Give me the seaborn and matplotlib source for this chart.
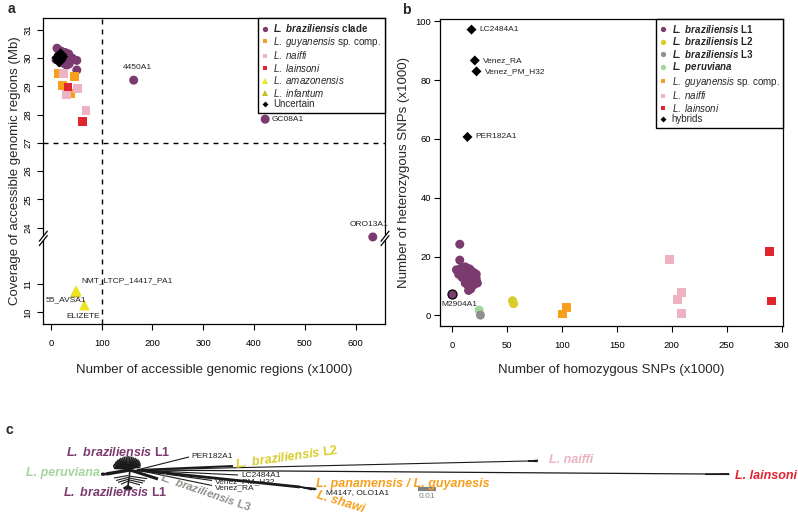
import numpy as np
import pandas as pd
import matplotlib
matplotlib.use("Agg")
import matplotlib.pyplot as plt
import seaborn as sns
from matplotlib.lines import Line2D
from matplotlib.patches import Polygon

sns.set_theme(style="ticks")
plt.rcParams['font.family'] = ['Liberation Sans', 'DejaVu Sans']
plt.rcParams['mathtext.fontset'] = 'custom'
plt.rcParams['mathtext.rm'] = 'Liberation Sans'
plt.rcParams['mathtext.it'] = 'Liberation Sans:italic'
plt.rcParams['mathtext.bf'] = 'Liberation Sans:bold'
plt.rcParams['mathtext.bfit'] = 'Liberation Sans:bold:italic'

PURPLE = "#7B3B6E"
ORANGE = "#F8A01E"
PINK = "#EDB3C3"
RED = "#E02530"
YEL_AM = "#ECE620"
YEL_INF = "#C5C02A"
L2_YEL = "#D9CD2C"
L3_GRAY = "#8F8F8B"
PERU = "#A3D69D"
TREE = "#1a1a1a"

# ---------------- panel a data ----------------
a_brazil_x = [12, 20, 28, 35, 15, 22, 30, 18, 25, 33, 10, 40, 20, 27, 36, 51, 51, 42, 23, 31, 163, 422, 634]
a_brazil_y = [30.35, 30.25, 30.2, 30.15, 30.1, 30.05, 30.0, 29.95, 29.9, 29.9, 29.95, 29.95, 29.85,
              29.8, 29.8, 29.92, 29.58, 30.0, 30.15, 29.75, 29.22, 27.84, 23.67]
a_guy_x = [15, 46.5, 23.5, 38]
a_guy_y = [29.47, 29.35, 29.02, 28.76]
a_naiffi_x = [25, 52, 30, 69]
a_naiffi_y = [29.45, 28.92, 28.7, 28.14]
a_lainsoni_x = [33.5, 62]
a_lainsoni_y = [28.98, 27.75]
a_inf_x = [48]
a_inf_y = [10.72]
a_amaz_x = [50, 66]
a_amaz_y = [10.77, 10.26]
a_unc_x = [14, 18, 21, 16, 19]
a_unc_y = [30.02, 29.95, 30.05, 29.9, 30.12]
a_label_text = ["4450A1", "GC08A1", "ORO13A1", "NMT_LTCP_14417_PA1", "55_AVSA1", "ELIZETE"]
a_label_x = [163, 422, 634, 50, 50, 66]
a_label_y = [29.22, 27.84, 23.67, 10.77, 10.77, 10.26]
a_yticks = [10, 11, 24, 25, 26, 27, 28, 29, 30, 31]
a_xticks = [0, 100, 200, 300, 400, 500, 600]
A_SHIFT = 11  # lower segment of the broken axis is shifted up by this amount

# ---------------- panel b data ----------------
b_l1_x = [7, 7, 4, 6, 8, 10, 12, 14, 16, 18, 20, 22, 9, 11, 13, 15, 17, 19, 21, 23, 12, 14, 16, 18, 20, 22,
          15, 17, 10, 13, 19, 21]
b_l1_y = [24.2, 18.8, 15.5, 14, 16, 15, 16.5, 16, 15.8, 15, 14.5, 14, 13, 12.5, 14, 13, 12.5, 12, 11.5, 11,
          11, 10.5, 9.5, 10, 10.5, 12.5, 8.5, 9, 14, 11.8, 13.5, 13]
b_m2904_x = [0.3]
b_m2904_y = [7.2]
b_l2_x = [55, 56]
b_l2_y = [5.0, 4.0]
b_l3_x = [25.8]
b_l3_y = [0.1]
b_peru_x = [24.6]
b_peru_y = [1.8]
b_guy_x = [100.5, 104.5]
b_guy_y = [0.5, 2.7]
b_naiffi_x = [198, 209, 205, 209]
b_naiffi_y = [19, 7.7, 5.4, 0.7]
b_lainsoni_x = [288.7, 290.9]
b_lainsoni_y = [21.8, 4.9]
b_hyb_name = ["LC2484A1", "Venez_RA", "Venez_PM_H32", "PER182A1"]
b_hyb_x = [17.7, 20.7, 22.2, 14]
b_hyb_y = [97.2, 86.7, 83, 60.7]

# ---------------- panel c tree layout (layout units) ----------------
node_name = ["hub", "east", "L1up", "peru", "L1low", "L3", "PER182A1", "L2", "naiffi", "lainsoni",
             "LC2484A1", "Venez_PM_H32", "Venez_RA", "guy"]
node_x = [130, 137, 128, 106, 128, 158, 189, 233, 528, 705, 238, 212, 212, 300]
node_y = [470, 470, 469, 474, 486, 479, 457, 466, 461, 474, 475, 480.5, 485.5, 487]
node_parent = [None, "hub", "hub", "hub", "hub", "hub", "east", "east", "east", "east", "east", "east",
               "east", "east"]
node_lw = [0, 1.0, 1.0, 2.4, 1.2, 2.2, 0.8, 1.4, 0.8, 0.9, 0.8, 0.8, 0.8, 2.0]
up_fan_ang = [15, 25, 33, 40, 47, 54, 60, 66, 72, 78, 84, 90, 96, 102, 108, 114, 120, 126, 132, 138, 145,
              152, 160, 168, 176]
up_fan_len = [13, 14, 15, 16, 17, 18, 18, 19, 19, 20, 20, 20, 20, 20, 19, 19, 18, 18, 17, 17, 16, 16, 16, 15, 14]
low_side_x0 = [128, 128, 128, 128, 129, 129, 129, 129]
low_side_y0 = [475.5, 477.4, 479.3, 481.1, 476.1, 478, 479.9, 481.8]
low_side_x1 = [114, 116, 118, 121, 147, 145, 143, 140]
low_side_y1 = [478, 480.5, 482.4, 484.3, 478.6, 481.1, 483, 484.9]
low_fan_ang = [-45, -65, -80, -95, -110, -125, -140]
low_fan_len = [6, 7, 7, 7, 7, 6, 6]
peru_fan_ang = [165, 178, 192, 205]
peru_fan_len = [4, 5, 5, 4]
naiffi_fan_ang = [8, 3, -2, -7]
naiffi_fan_len = [10, 10, 10, 9]
lainsoni_fan_ang = [1.5, 0, -1.5]
lainsoni_fan_len = [24, 24, 22]
guy_fan_ang = [-8, -12, -16, -20]
guy_fan_len = [16, 17, 16, 13]
TREE_YSCALE = 0.63

# ================= figure =================
fig = plt.figure(figsize=(7.98, 5.15), dpi=100)
W, H = 798, 515
ax_a = fig.add_axes([43.3 / W, 1 - 324 / H, (385 - 43.3) / W, (324 - 18.3) / H])
ax_b = fig.add_axes([440 / W, 1 - 326 / H, (783.3 - 440) / W, (326 - 19) / H])

for ax in (ax_a, ax_b):
    for s in ax.spines.values():
        s.set_visible(True)
        s.set_color('black')
        s.set_linewidth(0.9)
    ax.tick_params(direction='out', length=4, width=0.8, labelsize=6.8, color='black', labelcolor='black')

# ---- panel a ----
groups_a = (["brazil"] * len(a_brazil_x) + ["guy"] * len(a_guy_x) + ["naiffi"] * len(a_naiffi_x)
            + ["lainsoni"] * len(a_lainsoni_x) + ["inf"] * len(a_inf_x) + ["amaz"] * len(a_amaz_x)
            + ["unc"] * len(a_unc_x))
dfa = pd.DataFrame({
    "x": a_brazil_x + a_guy_x + a_naiffi_x + a_lainsoni_x + a_inf_x + a_amaz_x + a_unc_x,
    "y": a_brazil_y + a_guy_y + a_naiffi_y + a_lainsoni_y + a_inf_y + a_amaz_y + a_unc_y,
    "group": groups_a,
})
dfa["yp"] = np.where(dfa["y"] < 20, dfa["y"] + A_SHIFT, dfa["y"])
pal_a = {"brazil": PURPLE, "guy": ORANGE, "naiffi": PINK, "lainsoni": RED, "inf": YEL_INF,
         "amaz": YEL_AM, "unc": "black"}
mk_a = {"brazil": "o", "guy": "s", "naiffi": "s", "lainsoni": "s", "inf": "^", "amaz": "^", "unc": "D"}
sz_a = {"brazil": 42, "guy": 40, "naiffi": 40, "lainsoni": 40, "inf": 60, "amaz": 60, "unc": 44}
ax_a.axvline(100, color='black', lw=1, dashes=(3.6, 3.6), zorder=1)
ax_a.axhline(27, color='black', lw=1, dashes=(3.6, 3.6), zorder=1)
sns.scatterplot(data=dfa, x="x", y="yp", hue="group", style="group", size="group", palette=pal_a,
                markers=mk_a, sizes=sz_a, linewidth=0, legend=False, ax=ax_a, zorder=3)
ax_a.set_xlim(-15, 658)
ax_a.set_ylim(20.59, 31.41)
ax_a.set_xticks(a_xticks)
ax_a.set_xticklabels([str(v) for v in a_xticks])
ax_a.set_yticks([v + A_SHIFT if v < 20 else v for v in a_yticks])
ax_a.set_yticklabels([str(v) for v in a_yticks], rotation=90, va='center')
ax_a.tick_params(axis='x', pad=7)
ax_a.tick_params(axis='y', pad=4)
ax_a.set_xlabel("Number of accessible genomic regions (x1000)", fontsize=9.5)
ax_a.set_ylabel("Coverage of accessible genomic regions (Mb)", fontsize=9.5)
ax_a.xaxis.set_label_coords(0.5, -0.15)
ax_a.xaxis.label.set_va('center')
ax_a.yaxis.set_label_coords(-0.083, 0.5)
ax_a.yaxis.label.set_va('center')

a_offsets = [(3, 9), (5, 0), (-3, 9), (4, 7), (7, -6.5), (-1, -8.4)]
a_ha = ["center", "left", "center", "left", "right", "center"]
for t, x, y, off, ha in zip(a_label_text, a_label_x, a_label_y, a_offsets, a_ha):
    yp = y + A_SHIFT if y < 20 else y
    ax_a.annotate(t, (x, yp), xytext=off, textcoords='offset points', fontsize=6, ha=ha, va='center',
                  color='#222222', zorder=4)


def draw_break(ax, yval, xfrac):
    y0, y1 = ax.get_ylim()
    fy = (yval - y0) / (y1 - y0)
    bb = ax.get_position()
    px = 1 / (bb.width * W)
    py = 1 / (bb.height * H)
    g, dx, dy = 2.2, 4, 5
    poly = [(xfrac - dx * px, fy + (-g - dy) * py), (xfrac + dx * px, fy + (-g + dy) * py),
            (xfrac + dx * px, fy + (g + dy) * py), (xfrac - dx * px, fy + (g - dy) * py)]
    ax.add_patch(Polygon(poly, closed=True, transform=ax.transAxes, facecolor='white',
                         edgecolor='none', clip_on=False, zorder=5))
    for s in (-g, g):
        ax.plot([xfrac - dx * px, xfrac + dx * px], [fy + (s - dy) * py, fy + (s + dy) * py],
                transform=ax.transAxes, color='black', lw=0.9, clip_on=False, zorder=6)


draw_break(ax_a, 23.62, 0.0)
draw_break(ax_a, 23.62, 1.0)


def mk(marker, color, ms=3.8):
    return Line2D([], [], marker=marker, color=color, ls='none', markersize=ms, markeredgewidth=0)


h_a = [mk('o', PURPLE), mk('s', ORANGE, 3.4), mk('s', PINK, 3.4), mk('s', RED, 3.4), mk('^', YEL_AM, 4.2),
       mk('^', YEL_INF, 4.2), mk('D', 'black', 3.0)]
l_a = [r"$\mathbfit{L.\ braziliensis}$ $\mathbf{clade}$", r"$\mathit{L.\ guyanensis}$ sp. comp.",
       r"$\mathit{L.\ naiffi}$", r"$\mathit{L.\ lainsoni}$", r"$\mathit{L.\ amazonensis}$",
       r"$\mathit{L.\ infantum}$", "Uncertain"]
leg = ax_a.legend(h_a, l_a, loc='upper right', bbox_to_anchor=(1, 1), borderaxespad=0, frameon=True,
                  fancybox=False, edgecolor='black', framealpha=1, fontsize=7, handlelength=0.7,
                  handletextpad=0.5, labelspacing=0.05, borderpad=0.4)
leg.get_frame().set_linewidth(1.0)
leg.set_zorder(10)

# ---- panel b ----
groups_b = (["l1"] * len(b_l1_x) + ["peru"] * len(b_peru_x) + ["l3"] * len(b_l3_x) + ["l2"] * len(b_l2_x)
            + ["guy"] * len(b_guy_x) + ["naiffi"] * len(b_naiffi_x) + ["lainsoni"] * len(b_lainsoni_x)
            + ["hyb"] * len(b_hyb_x))
dfb = pd.DataFrame({
    "x": b_l1_x + b_peru_x + b_l3_x + b_l2_x + b_guy_x + b_naiffi_x + b_lainsoni_x + b_hyb_x,
    "y": b_l1_y + b_peru_y + b_l3_y + b_l2_y + b_guy_y + b_naiffi_y + b_lainsoni_y + b_hyb_y,
    "group": groups_b,
})
pal_b = {"l1": PURPLE, "l2": L2_YEL, "l3": L3_GRAY, "peru": PERU, "guy": ORANGE, "naiffi": PINK,
         "lainsoni": RED, "hyb": "black"}
mk_b = {"l1": "o", "l2": "o", "l3": "o", "peru": "o", "guy": "s", "naiffi": "s", "lainsoni": "s", "hyb": "D"}
sz_b = {"l1": 42, "l2": 42, "l3": 42, "peru": 42, "guy": 40, "naiffi": 40, "lainsoni": 40, "hyb": 26}
sns.scatterplot(data=dfb, x="x", y="y", hue="group", style="group", size="group", palette=pal_b,
                markers=mk_b, sizes=sz_b, linewidth=0, legend=False, ax=ax_b, zorder=3)
sns.scatterplot(x=b_m2904_x, y=b_m2904_y, color=PURPLE, edgecolor='black', linewidth=0.9, s=42,
                legend=False, ax=ax_b, zorder=4)
for t, x, y in zip(b_hyb_name, b_hyb_x, b_hyb_y):
    ax_b.annotate(t, (x, y), xytext=(6, 0), textcoords='offset points', fontsize=6, ha='left',
                  va='center', color='#222222')
ax_b.annotate("M2904A1", (b_m2904_x[0], b_m2904_y[0]), xytext=(5, -7.5), textcoords='offset points',
              fontsize=6, ha='center', va='center', color='#222222')
ax_b.set_xlim(-11, 301.5)
ax_b.set_ylim(-3.6, 100.8)
ax_b.set_xticks([0, 50, 100, 150, 200, 250, 300])
ax_b.set_yticks([0, 20, 40, 60, 80, 100])
ax_b.tick_params(axis='x', pad=7)
ax_b.tick_params(axis='y', pad=2.5)
ax_b.set_xlabel("Number of homozygous SNPs (x1000)", fontsize=9.5)
ax_b.set_ylabel("Number of heterozygous SNPs (x1000)", fontsize=9.5)
ax_b.xaxis.set_label_coords(0.5, -0.143)
ax_b.xaxis.label.set_va('center')
ax_b.yaxis.set_label_coords(-0.105, 0.5)
ax_b.yaxis.label.set_va('center')

h_b = [mk('o', PURPLE), mk('o', L2_YEL), mk('o', L3_GRAY), mk('o', PERU), mk('s', ORANGE, 3.4),
       mk('s', PINK, 3.4), mk('s', RED, 3.4), mk('D', 'black', 3.0)]
l_b = [r"$\mathbfit{L.\ braziliensis}$ $\mathbf{L1}$", r"$\mathbfit{L.\ braziliensis}$ $\mathbf{L2}$",
       r"$\mathbfit{L.\ braziliensis}$ $\mathbf{L3}$", r"$\mathbfit{L.\ peruviana}$",
       r"$\mathit{L.\ guyanensis}$ sp. comp.", r"$\mathit{L.\ naiffi}$", r"$\mathit{L.\ lainsoni}$", "hybrids"]
leg = ax_b.legend(h_b, l_b, loc='upper right', bbox_to_anchor=(1, 1), borderaxespad=0, frameon=True,
                  fancybox=False, edgecolor='black', framealpha=1, fontsize=7, handlelength=0.7,
                  handletextpad=0.5, labelspacing=0.05, borderpad=0.4)
leg.get_frame().set_linewidth(1.0)

# ---- panel c (tree) ----
ax_c = fig.add_axes([0, 0, 1, 125 / H])
ax_c.set_xlim(0, W)
ax_c.set_ylim(H, H - 125)
ax_c.axis('off')


def seg(x0, y0, x1, y1, lw, color=TREE):
    ax_c.plot([x0, x1], [y0, y1], color=color, lw=lw, solid_capstyle='butt')


def fan(cx, cy, angs, lens, lw):
    for a, L in zip(angs, lens):
        r = np.deg2rad(a)
        seg(cx, cy, cx + L * np.cos(r), cy - L * np.sin(r) * TREE_YSCALE, lw)


for i, nm in enumerate(node_name):
    p = node_parent[i]
    if p is None:
        continue
    j = node_name.index(p)
    seg(node_x[j], node_y[j], node_x[i], node_y[i], node_lw[i])

fan(node_x[2], node_y[2], up_fan_ang, up_fan_len, 1.1)
for x0, y0, x1, y1 in zip(low_side_x0, low_side_y0, low_side_x1, low_side_y1):
    seg(x0, y0, x1, y1, 0.8)
fan(node_x[4], node_y[4], low_fan_ang, low_fan_len, 1.4)
fan(node_x[3], node_y[3], peru_fan_ang, peru_fan_len, 1.4)
fan(node_x[8], node_y[8], naiffi_fan_ang, naiffi_fan_len, 0.8)
fan(node_x[9], node_y[9], lainsoni_fan_ang, lainsoni_fan_len, 0.8)
fan(node_x[13], node_y[13], guy_fan_ang, guy_fan_len, 0.9)

big = dict(fontsize=9)
L1lab = r"$\mathbfit{L.\ braziliensis}$ $\mathbf{L1}$"
ax_c.text(118, 453, L1lab, color=PURPLE, ha='center', va='center', **big)
ax_c.text(115, 493, L1lab, color=PURPLE, ha='center', va='center', **big)
ax_c.text(100, 473, "L. peruviana", color=PERU, ha='right', va='center', fontweight='bold',
          fontstyle='italic', **big)
ax_c.text(161, 476, r"$\mathbfit{L.\ braziliensis}$ $\mathbf{L3}$", color=L3_GRAY, ha='left', va='center',
          rotation=-19, rotation_mode='anchor', fontsize=8.2)
ax_c.text(235, 465, r"$\mathbfit{L.\ braziliensis}$ $\mathbf{L2}$", color=L2_YEL, ha='left', va='center',
          rotation=8, rotation_mode='anchor', **big)
ax_c.text(316, 484, "L. panamensis / L. guyanesis", color=ORANGE, ha='left', va='center',
          fontweight='bold', fontstyle='italic', **big)
ax_c.text(317, 495, "L. shawi", color=ORANGE, ha='left', va='center', rotation=-17,
          rotation_mode='anchor', fontweight='bold', fontstyle='italic', **big)
ax_c.text(549, 460, "L. naiffi", color=PINK, ha='left', va='center', fontweight='bold',
          fontstyle='italic', **big)
ax_c.text(797, 476, "L. lainsoni", color=RED, ha='right', va='center', fontweight='bold',
          fontstyle='italic', **big)
small = dict(fontsize=6, color='#222222', ha='left', va='center')
ax_c.text(191, 456, "PER182A1", **small)
ax_c.text(241, 475.5, "LC2484A1", **small)
ax_c.text(215, 481.5, "Venez_PM_H32", **small)
ax_c.text(215, 487.5, "Venez_RA", **small)
ax_c.text(326, 493, "M4147, OLO1A1", **small)
seg(418, 489, 436, 489, 3, color='#808080')
ax_c.text(427, 497, "0.01", fontsize=6, color='#808080', ha='center', va='center')

fig.text(8 / W, 1 - 9 / H, "a", fontsize=10, fontweight='bold', ha='left', va='center')
fig.text(402 / W, 1 - 10 / H, "b", fontsize=10, fontweight='bold', ha='left', va='center')
fig.text(6 / W, 1 - 430 / H, "c", fontsize=10, fontweight='bold', ha='left', va='center')

fig.savefig("out.png", dpi=100)
